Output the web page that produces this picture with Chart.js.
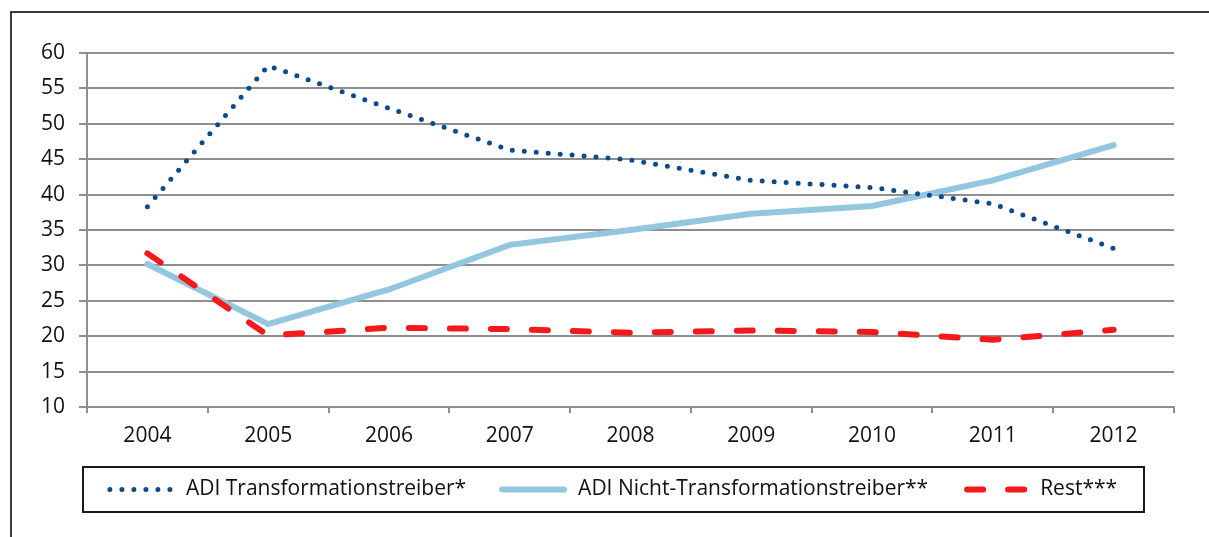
<!DOCTYPE html>
<html>
<head>
<meta charset="utf-8">
<script src="https://cdn.jsdelivr.net/npm/chart.js@4/dist/chart.umd.min.js"></script>
<style>
  html, body { margin: 0; padding: 0; background: #fff; overflow: hidden; }
  #wrap { position: relative; width: 1209px; height: 537px; }
  #frame { position: absolute; left: 10px; top: 11px; width: 1210px; height: 540px;
           border-top: 2px solid #3c3c3c; border-left: 2px solid #3c3c3c; pointer-events: none; }
</style>
</head>
<body>
<div id="wrap">
  <canvas id="chart" width="1209" height="537"></canvas>
  <div id="frame"></div>
</div>
<script>
var years = ["2004", "2005", "2006", "2007", "2008", "2009", "2010", "2011", "2012"];
var transformationstreiber = [38.3, 58.2, 52.2, 46.3, 44.9, 42.0, 41.0, 38.7, 32.4];
var nichtTransformationstreiber = [30.2, 21.7, 26.6, 32.9, 35.0, 37.3, 38.4, 42.0, 47.0];
var rest = [31.7, 20.1, 21.2, 21.0, 20.5, 20.8, 20.6, 19.5, 20.9];

var gridGrey = "#8e8e8e";
var font = { family: "'Open Sans'", size: 21 };

// legend drawn as a framed box under the axis, like the original
var boxLegend = {
  id: "boxLegend",
  afterDraw: function(chart) {
    var ctx = chart.ctx;
    var box = { x: 83, y: 467, w: 1061, h: 45 };
    var sample = 62, gapText = 14, gapItem = 36;
    ctx.save();
    ctx.lineWidth = 2;
    ctx.strokeStyle = "#1a1a1a";
    ctx.strokeRect(box.x, box.y, box.w, box.h);
    ctx.font = font.size + "px " + font.family;
    ctx.textBaseline = "middle";
    ctx.fillStyle = "#111";

    var sets = chart.data.datasets;
    var total = 0;
    sets.forEach(function(ds, i) {
      total += sample + gapText + ctx.measureText(ds.label).width;
      if (i < sets.length - 1) total += gapItem;
    });
    var x = box.x + (box.w - total) / 2;
    var cy = box.y + box.h / 2;
    sets.forEach(function(ds) {
      ctx.beginPath();
      ctx.strokeStyle = ds.borderColor;
      ctx.lineWidth = ds.borderWidth;
      ctx.lineCap = ds.borderCapStyle || "butt";
      ctx.setLineDash(ds.borderDash || []);
      var x0 = x + (ds.borderDash && ds.borderDash[0] > 0 ? 3 : 0);
      ctx.moveTo(x0, cy);
      ctx.lineTo(x + sample, cy);
      ctx.stroke();
      ctx.setLineDash([]);
      ctx.fillText(ds.label, x + sample + gapText, cy);
      x += sample + gapText + ctx.measureText(ds.label).width + gapItem;
    });
    ctx.restore();
  }
};

var ctx = document.getElementById("chart").getContext("2d");
var chart = new Chart(ctx, {
  type: "line",
  data: {
    labels: years,
    datasets: [{
      label: "ADI Transformationstreiber*",
      data: transformationstreiber,
      borderColor: "#0b4a8b",
      borderWidth: 5,
      borderDash: [0, 12],
      borderCapStyle: "round",
      pointRadius: 0,
      tension: 0,
      order: 1
    }, {
      label: "ADI Nicht-Transformationstreiber**",
      data: nichtTransformationstreiber,
      borderColor: "#93c6df",
      borderWidth: 6,
      borderCapStyle: "round",
      pointRadius: 0,
      tension: 0,
      order: 2
    }, {
      label: "Rest***",
      data: rest,
      borderColor: "#f5191c",
      borderWidth: 6,
      borderDash: [16, 25],
      borderCapStyle: "round",
      pointRadius: 0,
      tension: 0,
      order: 0
    }]
  },
  options: {
    responsive: false,
    animation: false,
    layout: { padding: { left: 0, top: 53, right: 35, bottom: 0 } },
    plugins: {
      legend: { display: false },
      tooltip: { enabled: false }
    },
    scales: {
      x: {
        offset: true,
        grid: { display: true, drawOnChartArea: false, drawTicks: true, tickLength: 6,
                color: gridGrey, lineWidth: 2, offset: true },
        border: { display: true, color: gridGrey, width: 2 },
        ticks: { color: "#111", font: font, padding: 10, maxRotation: 0 },
        afterFit: function(scale) { scale.height = 130; }
      },
      y: {
        min: 10,
        max: 60,
        ticks: { stepSize: 5, color: "#111", font: font, padding: 14 },
        grid: { color: gridGrey, lineWidth: 2, tickLength: 8, drawTicks: true },
        border: { display: true, color: gridGrey, width: 2 },
        afterFit: function(scale) { scale.width = 87; }
      }
    }
  },
  plugins: [boxLegend]
});
</script>
</body>
</html>
